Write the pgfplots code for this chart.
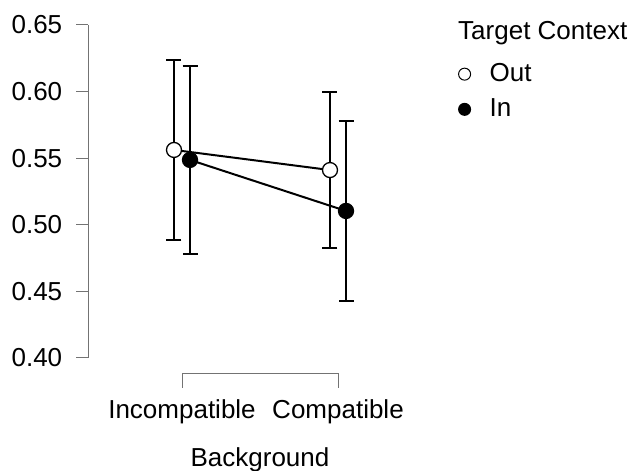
\documentclass[border=0pt]{standalone}
\usepackage{fontspec}
\setmainfont{Liberation Sans}
\usepackage{pgfplots}
\pgfplotsset{compat=1.18}
\begin{document}
\fontsize{26}{31}\selectfont
\begin{tikzpicture}[font=\fontsize{26}{31}\selectfont]
\useasboundingbox (0,0) rectangle (635pt,471pt);
\begin{axis}[
  at={(88.4pt,113pt)}, anchor=south west,
  scale only axis, width=343.2pt, height=333pt,
  xmin=-0.6, xmax=1.6, ymin=0.40, ymax=0.65,
  clip=false,
  axis y line*=left, axis x line=none,
  y axis line style={-, draw=black!55, line width=1pt},
  xtick=\empty,
  ytick={0.40,0.45,0.50,0.55,0.60,0.65},
  tick align=outside,
  major tick length=12pt,
  ytick style={draw=black!55, line width=1pt},
  /pgf/number format/assume math mode=true,
  yticklabel style={/pgf/number format/.cd, fixed, fixed zerofill, precision=2, /tikz/.cd, anchor=east, inner sep=0pt, xshift=-14pt, font=\fontsize{26}{31}\selectfont},
  legend image code/.code={\draw[#1] plot coordinates {(6pt,7pt)}; \path[draw=none, fill=none] (0pt,7pt) -- (31pt,7pt);},
  legend style={at={(axis description cs:1.0781,0.8865)}, anchor=north west, draw=none, fill=none, inner sep=0pt, row sep=13.4pt, cells={anchor=base west}, nodes={inner sep=0pt}, font=\fontsize{26}{31}\selectfont},
  errstyle/.style={forget plot, draw=none, mark=none, line width=2pt,
    error bars/.cd, y dir=both, y explicit,
    error bar style={draw=black, line width=2pt},
    error mark options={rotate=90, mark size=7.5pt, line width=2pt, draw=black}},
]
% error bars
\addplot[errstyle]
  coordinates {(-0.0513,0.5562) +- (0,0.0676) (0.9487,0.5411) +- (0,0.0586)};
\addplot[errstyle]
  coordinates {(0.0513,0.5487) +- (0,0.0705) (1.0513,0.5104) +- (0,0.0677)};
% lines and points
\addplot[forget plot, black, line width=2pt, mark=*, mark size=7.5pt, mark options={fill=white, draw=black, line width=1.3pt}]
  coordinates {(-0.0513,0.5562) (0.9487,0.5411)};
\addplot[forget plot, black, line width=2pt, mark=*, mark size=7.5pt, mark options={fill=black, draw=black, line width=1.3pt}]
  coordinates {(0.0513,0.5487) (1.0513,0.5104)};
\addlegendimage{draw=none, mark=*, mark size=6pt, mark options={fill=white, draw=black, line width=1pt}}
\addlegendentry{Out}
\addlegendimage{draw=none, mark=*, mark size=6pt, mark options={fill=black, draw=black, line width=1pt}}
\addlegendentry{In}
% x axis bracket and labels
\draw[black!55, line width=1pt] ([yshift=-30pt]axis cs:0,0.40) -- ([yshift=-16pt]axis cs:0,0.40) -- ([yshift=-16pt]axis cs:1,0.40) -- ([yshift=-30pt]axis cs:1,0.40);
\node[anchor=base] at ([yshift=-60pt]axis cs:0,0.40) {Incompatible};
\node[anchor=base] at ([yshift=-60pt]axis cs:1,0.40) {Compatible};
\node[anchor=base] at ([yshift=-109pt]axis cs:0.5,0.40) {Background};
\end{axis}
\node[anchor=base west, inner sep=0pt] at (458pt,431pt) {Target Context};
\end{tikzpicture}
\end{document}
